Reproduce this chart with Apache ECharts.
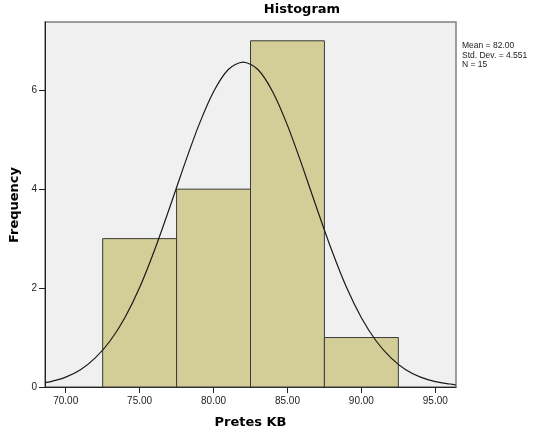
<!DOCTYPE html>
<html>
<head>
<meta charset="utf-8">
<script src="https://cdn.jsdelivr.net/npm/echarts@6/dist/echarts.min.js"></script>
<style>html,body{margin:0;padding:0;background:#fff}#c{width:545px;height:432px}</style>
</head>
<body>
<div id="c"></div>
<script>
// Histogram bins (Pretes KB)
var binStart = [72.5, 77.5, 82.5, 87.5];
var binEnd = [77.5, 82.5, 87.5, 92.5];
var counts = [3, 4, 7, 1];
// Normal curve
var curveX = [68.6, 69, 70, 71, 72, 73, 74, 75, 76, 77, 78, 79, 80, 81, 82, 83, 84, 85, 86, 87, 88, 89, 90, 91, 92, 93, 94, 95, 96, 96.4];
var curveY = [0.09, 0.11, 0.20, 0.35, 0.59, 0.93, 1.40, 2.01, 2.76, 3.60, 4.47, 5.29, 5.97, 6.42, 6.57, 6.42, 5.97, 5.29, 4.47, 3.60, 2.76, 2.01, 1.40, 0.93, 0.59, 0.35, 0.20, 0.11, 0.06, 0.04];
var xTicks = [70, 75, 80, 85, 90, 95];
var yTicks = [0, 2, 4, 6];
var titleText = 'Histogram';
var xTitle = 'Pretes KB';
var yTitle = 'Frequency';
var statsLines = ['Mean = 82.00', 'Std. Dev. = 4.551', 'N = 15'];

var barData = binStart.map(function (s, i) { return [s, binEnd[i], counts[i]]; });
var curveData = curveX.map(function (x, i) { return [x, curveY[i]]; });

var chart = echarts.init(document.getElementById('c'), null, { renderer: 'canvas' });
chart.setOption({
  animation: false,
  backgroundColor: '#ffffff',
  grid: {
    left: 45, right: 89, top: 22, bottom: 45,
    show: true, backgroundColor: '#f0f0f0', borderColor: '#808080', borderWidth: 1.5
  },
  xAxis: {
    type: 'value', min: 68.6, max: 96.4,
    axisLine: { show: true, lineStyle: { color: '#222', width: 1 } },
    axisTick: { show: true, inside: false, customValues: xTicks, length: 6, lineStyle: { color: '#222' } },
    axisLabel: { customValues: xTicks, margin: 9, fontFamily: 'Liberation Sans, Arial, sans-serif', fontSize: 10, color: '#222',
      formatter: function (v) { return v.toFixed(2); } },
    splitLine: { show: false }
  },
  yAxis: {
    type: 'value', min: 0, max: 7.38,
    axisLine: { show: true, lineStyle: { color: '#222', width: 1 } },
    axisTick: { show: true, inside: false, customValues: yTicks, length: 6, lineStyle: { color: '#222' } },
    axisLabel: { customValues: yTicks, margin: 8, fontFamily: 'Liberation Sans, Arial, sans-serif', fontSize: 10, color: '#222' },
    splitLine: { show: false }
  },
  series: [
    {
      type: 'custom',
      data: barData,
      renderItem: function (params, api) {
        var p0 = api.coord([api.value(0), api.value(2)]);
        var p1 = api.coord([api.value(1), 0]);
        return {
          type: 'rect',
          shape: { x: p0[0], y: p0[1], width: p1[0] - p0[0], height: p1[1] - p0[1] },
          style: { fill: '#d3ce97', stroke: '#3a3a3a', lineWidth: 1 }
        };
      },
      encode: { x: [0, 1], y: 2 },
      z: 2
    },
    {
      type: 'line',
      data: curveData,
      smooth: 0.3,
      showSymbol: false,
      lineStyle: { color: '#1a1a1a', width: 1.2 },
      z: 3
    }
  ],
  graphic: [
    { type: 'text', x: 302, y: 10, style: { text: titleText, font: 'bold 13px "DejaVu Sans", sans-serif', fill: '#000', textAlign: 'center', textVerticalAlign: 'middle' } },
    { type: 'text', x: 250.5, y: 423, style: { text: xTitle, font: 'bold 13px "DejaVu Sans", sans-serif', fill: '#000', textAlign: 'center', textVerticalAlign: 'middle' } },
    { type: 'text', x: 15, y: 205, rotation: Math.PI / 2, style: { text: yTitle, font: 'bold 13px "DejaVu Sans", sans-serif', fill: '#000', textAlign: 'center', textVerticalAlign: 'middle' } },
    { type: 'text', x: 462, y: 41, style: { text: statsLines.join('\n'), font: '8.5px "Liberation Sans", Arial, sans-serif', lineHeight: 9.5, fill: '#222', textAlign: 'left', textVerticalAlign: 'top' } }
  ]
});
</script>
</body>
</html>
